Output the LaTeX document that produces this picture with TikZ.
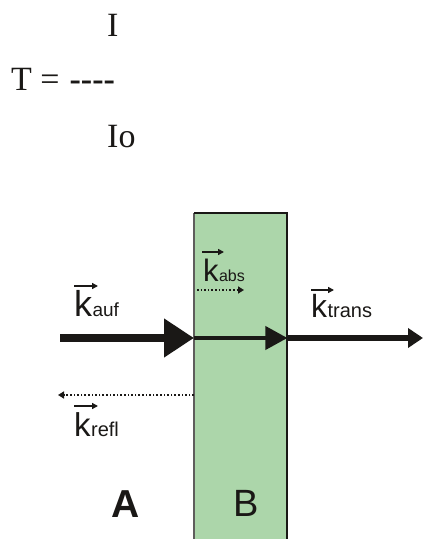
\documentclass[tikz,border=0pt]{standalone}
\usepackage{fontspec}
\setmainfont{Liberation Serif}
\newfontfamily\labfont{Liberation Sans}
\usetikzlibrary{arrows.meta}
\definecolor{slabgreen}{RGB}{172,214,170}
\definecolor{ink}{RGB}{26,24,22}
\tikzset{
  lab/.style={inner sep=0pt, text=ink, font=\labfont},
  vecarrow/.style={draw=ink, line width=1.6pt, -{Triangle[length=6pt,width=6pt]}},
  dotarrow/.style={draw=ink, line width=1.6pt, dotted, -{Triangle[length=6pt,width=7pt]}},
  formula/.style={inner sep=0pt, text=ink},
}
\begin{document}
\begin{tikzpicture}[x=1pt,y=1pt]
\useasboundingbox (0,0) rectangle (423,539);
% formula
\node[formula, anchor=base west] (fI) at (107,539-37) {\fontsize{34}{34}\selectfont I};
\node[formula, anchor=base west] (fT) at (11,539-91) {\fontsize{34}{34}\selectfont T =\hspace{10pt}\textbf{-{}-{}-{}-}};
\node[formula, anchor=base west] (fIo) at (107,539-148) {\fontsize{34}{34}\selectfont Io};
% slab
\node[fill=slabgreen, inner sep=0pt, minimum width=93pt, minimum height=340pt, anchor=north west] (slab) at (194,539-213) {};
\draw[draw=ink!70, line width=2pt] (slab.south west) -- (slab.north west);
\draw[draw=ink, line width=2pt] (slab.north west) -- (slab.north east) -- (slab.south east);
% beam coordinates
\coordinate (src) at (60,539-338);
\coordinate (dst) at (423,539-338);
\coordinate (inL) at (slab.west |- src);
\coordinate (inR) at (slab.east |- src);
% incoming thick arrow
\draw[draw=ink, line width=8pt, -{Triangle[length=30pt,width=37pt]}] (src) -- (inL);
% inside arrow
\draw[draw=ink, line width=4pt, -{Triangle[length=22pt,width=23pt]}] (inL) -- (inR);
% transmitted arrow
\draw[draw=ink, line width=6pt, -{Triangle[length=15pt,width=19pt]}] (inR) -- (dst);
% reflected dotted arrow
\coordinate (reflS) at (slab.west |- 0,539-395);
\coordinate (reflE) at (58,539-395);
\draw[dotarrow] (reflS) -- (reflE);
% absorbed dotted arrow
\coordinate (absS) at (197,539-290);
\coordinate (absE) at (244,539-290);
\draw[dotarrow] (absS) -- (absE);
% labels
\node[lab, anchor=base west] (kauf) at (74,539-317) {\fontsize{36}{36}\selectfont k};
\node[lab, anchor=base west] (sauf) at (kauf.base east) {\fontsize{19}{19}\selectfont auf};
\draw[vecarrow] (74,539-286) -- (98,539-286);
\node[lab, anchor=base west] (kabs) at (203,539-282) {\fontsize{31}{31}\selectfont k};
\node[lab, anchor=base west] (sabs) at (kabs.base east) {\fontsize{16}{16}\selectfont abs};
\draw[vecarrow] (202,539-252) -- (224,539-252);
\node[lab, anchor=base west] (ktrans) at (311,539-318) {\fontsize{32}{32}\selectfont k};
\node[lab, anchor=base west] (strans) at (ktrans.base east) {\fontsize{20}{20}\selectfont trans};
\draw[vecarrow] (311,539-290) -- (334,539-290);
\node[lab, anchor=base west] (krefl) at (74,539-437) {\fontsize{33}{33}\selectfont k};
\node[lab, anchor=base west] (srefl) at (krefl.base east) {\fontsize{20}{20}\selectfont refl};
\draw[vecarrow] (74,539-406) -- (98,539-406);
% region labels
\node[lab, anchor=base west] (A) at (111,539-518) {\fontsize{39}{39}\selectfont\bfseries A};
\node[lab, anchor=base west] (B) at (233,539-517) {\fontsize{38}{38}\selectfont B};
\end{tikzpicture}
\end{document}
